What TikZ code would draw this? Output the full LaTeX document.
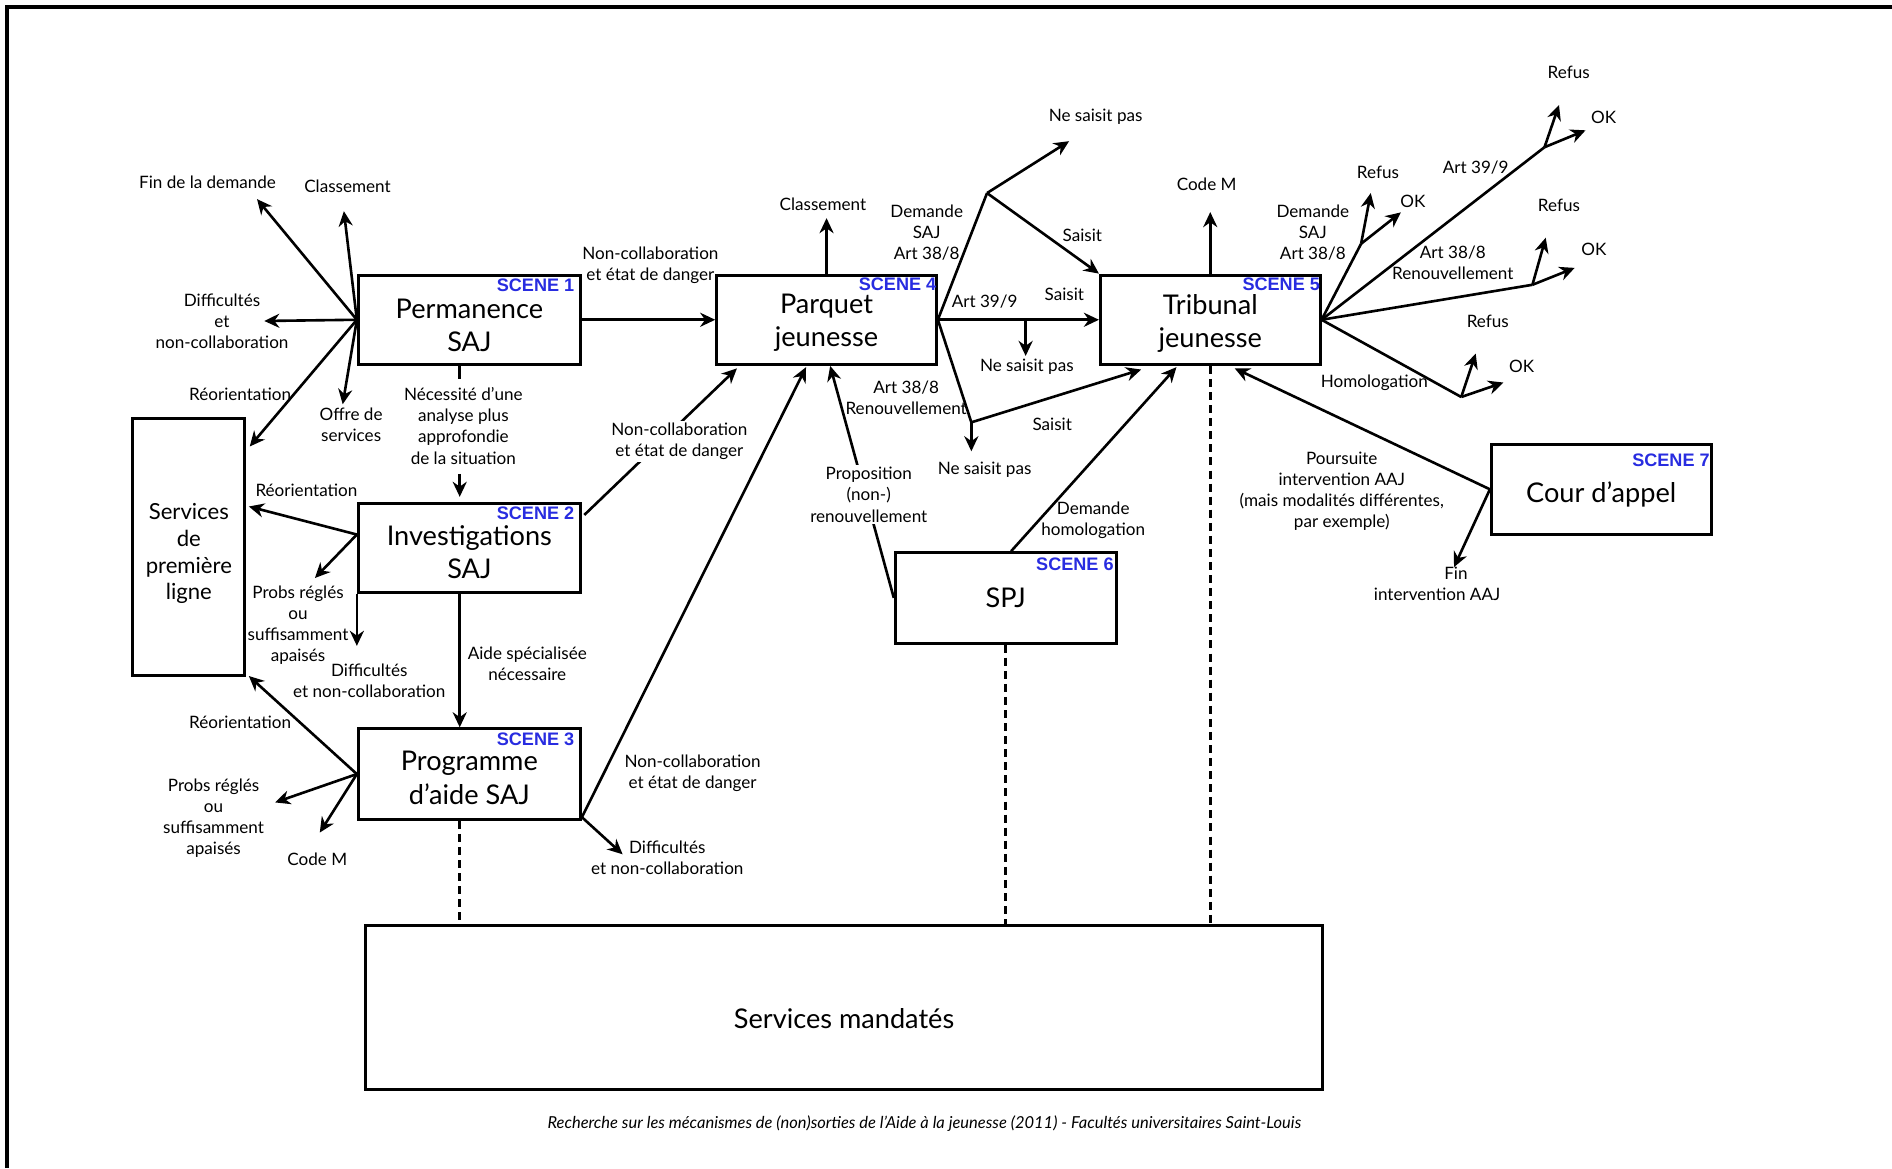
\documentclass[tikz,border=0pt]{standalone}
\usepackage{fontspec}
\setmainfont{Lato}
\newfontfamily\scenefam{Liberation Sans}
\usetikzlibrary{arrows.meta,calc}
\definecolor{sceneblue}{RGB}{40,44,224}
% box text, lowered inside its frame without changing the frame
\newcommand{\boxtext}[2]{\raisebox{-#1}[\height][\depth]{\begin{tabular}{@{}c@{}}#2\end{tabular}}}
\begin{document}
\begin{tikzpicture}[x=0.6pt,y=-0.6pt,
  box/.style={draw, line width=1.5pt, align=center, inner sep=0pt, font=\fontsize{13.5}{16.5}\selectfont},
  scenetag/.style={anchor=north east, inner sep=0pt, text=sceneblue, font=\scenefam\bfseries\fontsize{9}{10}\selectfont},
  lbl/.style={align=center, inner sep=1pt, font=\fontsize{8.5}{10.5}\selectfont},
  flow/.style={line width=1.3pt, -{Stealth[length=7.5pt,width=7pt]}},
  link/.style={line width=1.3pt},
  tie/.style={line width=1.6pt, dash pattern=on 4pt off 2.5pt},
]
\useasboundingbox (0,0) rectangle (1568,968);
\draw[line width=2pt] (6,968) -- (6,6) -- (1568,6);

% ---------- boxes ----------
\node[box, minimum width=110.4pt, minimum height=44.4pt] (perm) at (389,265) {\boxtext{4.2pt}{Permanence\\SAJ}};
\node[box, minimum width=110.4pt, minimum height=44.4pt] (inv)  at (389,454) {\boxtext{3.7pt}{Investigations\\SAJ}};
\node[box, minimum width=110.4pt, minimum height=45pt]   (prog) at (389,641.5) {\boxtext{3.4pt}{Programme\\d’aide SAJ}};
\node[box, minimum width=109.2pt, minimum height=44.4pt] (parq) at (685,265) {\boxtext{1.6pt}{Parquet\\jeunesse}};
\node[box, minimum width=109.2pt, minimum height=44.4pt] (trib) at (1003,265) {\boxtext{2.3pt}{Tribunal\\jeunesse}};
\node[box, minimum width=109.8pt, minimum height=45pt]   (spj)  at (833.5,495.5) {\boxtext{1.6pt}{SPJ}};
\node[box, minimum width=109.2pt, minimum height=45pt]   (cour) at (1327,405.5) {\boxtext{3.4pt}{Cour d’appel}};
\node[box, minimum width=55.8pt, minimum height=127.8pt, font=\fontsize{11}{13.2}\selectfont] (spl) at (156.5,453.5) {\boxtext{3.6pt}{Services\\de\\première\\ligne}};
\node[box, minimum width=475.8pt, minimum height=81.6pt] (smand) at (699.5,835) {\boxtext{7.2pt}{Services mandatés}};

\node[scenetag] (s1) at ($(perm.north east)+(-6,4)$) {SCENE 1};
\node[scenetag] (s2) at ($(inv.north east)+(-6,4)$)  {SCENE 2};
\node[scenetag] (s3) at ($(prog.north east)+(-6,4)$) {SCENE 3};
\node[scenetag] (s4) at ($(parq.north east)+(-1,3)$) {SCENE 4};
\node[scenetag] (s5) at ($(trib.north east)+(-1,3)$) {SCENE 5};
\node[scenetag] (s6) at ($(spj.north east)+(-3,5)$)  {SCENE 6};
\node[scenetag] (s7) at ($(cour.north east)+(-2,9)$) {SCENE 7};

% ---------- Permanence SAJ ----------
\coordinate (o1) at (perm.west);
\coordinate (p1a) at (213,165);
\coordinate (p1b) at (285,175);
\coordinate (p1c) at (219,266);
\coordinate (p1d) at (207,370);
\coordinate (p1e) at (284,335);
\draw[flow] (o1) -- (p1a);
\draw[flow] (o1) -- (p1b);
\draw[flow] (o1) -- (p1c);
\draw[flow] (o1) -- (p1d);
\draw[flow] (o1) -- (p1e);
\node[lbl] (l1a) at (172,151) {Fin de la demande};
\node[lbl] (l1b) at (288,154) {Classement};
\node[lbl] (l1c) at (184,266) {Difficultés\\et\\non-collaboration};
\node[lbl] (l1d) at (199,327) {Réorientation};
\node[lbl] (l1e) at (291,352) {Offre de\\services};

\draw[flow] (perm.east) -- (parq.west);
\node[lbl] (l1f) at (539,220) {Non-collaboration\\et état de danger};

\draw[link] ($(perm.south)+(-8,0)$) -- ($(perm.south)+(-8,11)$);
\node[lbl] (l1g) at (384,353) {Nécessité d’une\\analyse plus\\approfondie\\de la situation};
\draw[flow] ($(inv.north)+(-8,-23)$) -- ($(inv.north)+(-8,-4)$);

% ---------- Investigations SAJ ----------
\coordinate (o2) at ($(inv.west)+(0,-11)$);
\draw[flow] (o2) -- ($(spl.north east)+(2,74)$);
\draw[flow] (o2) -- (261,479);
\draw[flow] (inv.south west) -- ++(0,43);
\node[lbl] (l2a) at (254,406) {Réorientation};
\node[lbl] (l2b) at (247,518) {Probs réglés\\ou\\suffisamment\\apaisés};
\node[lbl] (l2c) at (306,564) {Difficultés\\et non-collaboration};
\draw[flow] ($(inv.south)+(-8,0)$) -- ($(prog.north)+(-8,0)$);
\node[lbl] (l2d) at (437,550) {Aide spécialisée\\nécessaire};
\draw[flow] ($(inv.north east)+(2,11)$) -- ($(parq.south west)+(18,2)$);
\node[lbl, fill=white] (l2e) at (563,366) {Non-collaboration\\et état de danger};

% ---------- Programme d'aide SAJ ----------
\draw[flow] (prog.west) -- ($(spl.south east)+(2,-1)$);
\draw[flow] (prog.west) -- (228,665);
\draw[flow] (prog.west) -- (265,690);
\node[lbl] (l3a) at (199,599) {Réorientation};
\node[lbl] (l3b) at (177,678) {Probs réglés\\ou\\suffisamment\\apaisés};
\node[lbl] (l3c) at (263,712) {Code M};
\coordinate (o3) at ($(prog.south east)+(0,-3)$);
\draw[flow] (o3) -- ($(parq.south)+(-17,1)$);
\draw[flow] (o3) -- (516,708);
\node[lbl] (l3d) at (574,641) {Non-collaboration\\et état de danger};
\node[lbl] (l3e) at (553,711) {Difficultés\\et non-collaboration};
\coordinate (pd) at ($(prog.south)+(-8,0)$);
\draw[tie] (pd) -- (pd |- smand.north);

% ---------- Parquet jeunesse ----------
\draw[flow] (parq.north) -- ++(0,-46);
\node[lbl] (l4a) at (682,169) {Classement};
\coordinate (j4a) at (818,160);
\draw[link] (parq.east) -- (j4a);
\draw[flow] (j4a) -- (886,117);
\draw[flow] (j4a) -- (trib.north west);
\node[lbl] (l4b) at (768,193) {Demande\\SAJ\\Art 38/8};
\node[lbl] (l4c) at (908,97) {Ne saisit pas};
\node[lbl] (l4d) at (897,195) {Saisit};
\draw[flow] (parq.east) -- (trib.west);
\coordinate (j4c) at (850,265);
\draw[flow] (j4c) -- ++(0,30);
\node[lbl] (l4e) at (816,250) {Art 39/9};
\node[lbl] (l4f) at (882,244) {Saisit};
\node[lbl] (l4g) at (851,304) {Ne saisit pas};
\coordinate (j4b) at (805,350);
\draw[link] (parq.east) -- (j4b);
\draw[flow] (j4b) -- ++(0,24);
\draw[flow] (j4b) -- ($(trib.south west)+(35,3)$);
\node[lbl] (l4h) at (751,330) {Art 38/8\\Renouvellement};
\node[lbl] (l4i) at (816,389) {Ne saisit pas};
\node[lbl] (l4j) at (872,352) {Saisit};

% ---------- SPJ ----------
\draw[flow] (spj.west) -- ($(parq.south)+(3,0)$);
\node[lbl, fill=white] (l6a) at (720,410) {Proposition\\(non-)\\renouvellement};
\draw[flow] ($(spj.north)+(4.5,0)$) -- ($(trib.south)+(-28,1)$);
\node[lbl] (l6b) at (906,431) {Demande\\homologation};
\draw[tie] (spj.south) -- (spj.south |- smand.north);

% ---------- Tribunal jeunesse ----------
\draw[flow] (trib.north) -- ++(0,-51);
\node[lbl] (l5a) at (1000,153) {Code M};
\draw[tie] (trib.south) -- (trib.south |- smand.north);
\coordinate (o5) at (trib.east);
\coordinate (t1) at (1128,202);
\coordinate (t2) at (1280,122);
\coordinate (t3) at (1270,236);
\coordinate (t4) at (1211,329);
\draw[link] (o5) -- (t1);
\draw[link] (o5) -- (t2);
\draw[link] (o5) -- (t3);
\draw[link] (o5) -- (t4);
\draw[flow] (t1) -- (1136,160);
\draw[flow] (t1) -- (1161,176);
\draw[flow] (t2) -- (1292,87);
\draw[flow] (t2) -- (1314,108);
\draw[flow] (t3) -- (1281,197);
\draw[flow] (t3) -- (1305,222);
\draw[flow] (t4) -- (1223,293);
\draw[flow] (t4) -- (1246,317);
\node[lbl] (l5b) at (1088,193) {Demande\\SAJ\\Art 38/8};
\node[lbl] (l5c) at (1142,143) {Refus};
\node[lbl] (l5d) at (1171,167) {OK};
\node[lbl] (l5e) at (1223,139) {Art 39/9};
\node[lbl] (l5f) at (1300,60) {Refus};
\node[lbl] (l5g) at (1329,97) {OK};
\node[lbl] (l5h) at (1204,218) {Art 38/8\\Renouvellement};
\node[lbl] (l5i) at (1292,170) {Refus};
\node[lbl] (l5j) at (1321,207) {OK};
\node[lbl] (l5k) at (1139,317) {Homologation};
\node[lbl] (l5l) at (1233,266) {Refus};
\node[lbl] (l5m) at (1261,304) {OK};

% ---------- Cour d'appel ----------
\draw[flow] (cour.west) -- ($(trib.south east)+(-72,2)$);
\node[lbl] (l7a) at (1112,407) {Poursuite\\intervention AAJ\\(mais modalités différentes,\\par exemple)};
\draw[flow] (cour.west) -- (1205,470);
\node[lbl] (l7b) at (1191,484) {\hspace*{2.2em}Fin\\intervention AAJ};

% ---------- footer ----------
\node[font=\itshape\fontsize{8.2}{9}\selectfont] (foot) at (766,931) {Recherche sur les mécanismes de (non)sorties de l’Aide à la jeunesse (2011) - Facultés universitaires Saint-Louis};
\end{tikzpicture}
\end{document}
